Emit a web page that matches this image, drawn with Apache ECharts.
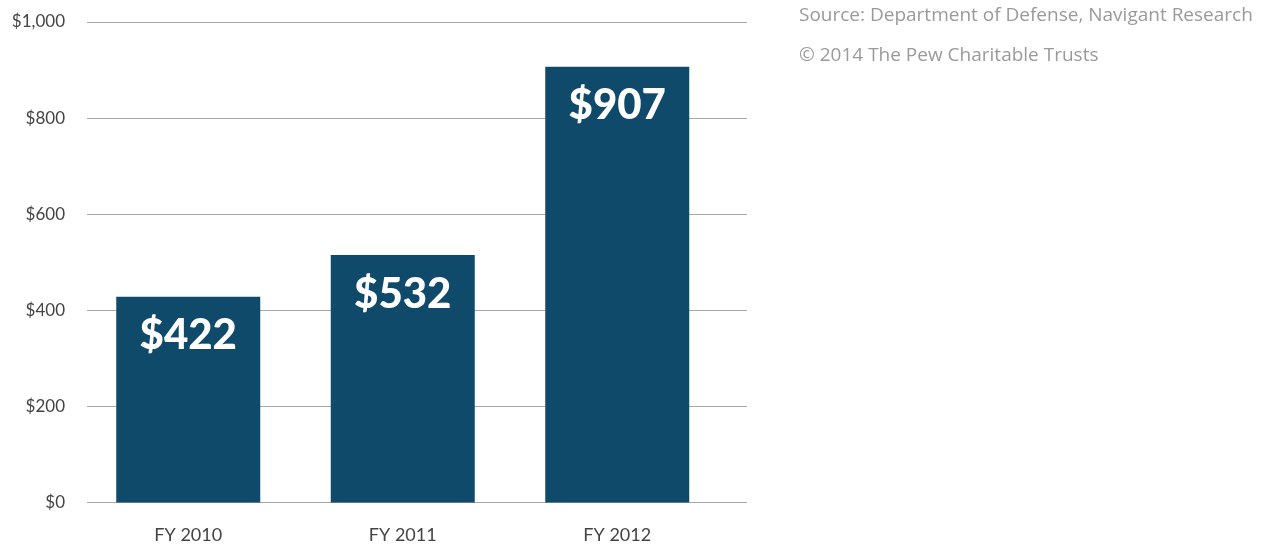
<!DOCTYPE html>
<html>
<head>
<meta charset="utf-8">
<script src="https://cdn.jsdelivr.net/npm/echarts@6/dist/echarts.min.js"></script>
<style>
html,body{margin:0;padding:0;background:#fff;}
#chart{width:1264px;height:546px;}
</style>
</head>
<body>
<div id="chart"></div>
<script>
const categories = ['FY 2010', 'FY 2011', 'FY 2012'];
const barValues = [428, 515, 907];
const barLabels = ['$422', '$532', '$907'];
const yTicks = [0, 200, 400, 600, 800, 1000];
const sourceLines = ['Source: Department of Defense, Navigant Research', '\u00A9 2014 The Pew Charitable Trusts'];

const chart = echarts.init(document.getElementById('chart'), null, {renderer: 'canvas'});
const fontFam = 'Lato, "Open Sans", sans-serif';
const option = {
  animation: false,
  backgroundColor: '#ffffff',
  grid: [
    {left: 87, width: 660, top: 22, bottom: 43.5, containLabel: false},
    {left: 81, width: 643.5, top: 22, bottom: 43.5, containLabel: false}
  ],
  graphic: sourceLines.map((t, i) => ({
    type: 'text', left: 799, top: 6 + i * 40,
    style: {text: t, fill: '#9a9a9a', font: '19px "Open Sans", sans-serif'}
  })),
  xAxis: [
    {gridIndex: 0, type: 'category', data: categories, show: false},
    {gridIndex: 1, type: 'category', data: categories,
     axisLine: {show: false}, axisTick: {show: false},
     axisLabel: {color: '#444', fontSize: 18, fontFamily: fontFam, margin: 24}}
  ],
  yAxis: [
    {gridIndex: 0, type: 'value', min: yTicks[0], max: yTicks[yTicks.length - 1], interval: 200,
     axisLine: {show: false}, axisTick: {show: false},
     splitLine: {lineStyle: {color: '#a8a8a8', width: 1}},
     axisLabel: {color: '#444', fontSize: 17, fontFamily: fontFam, margin: 22,
       formatter: v => '$' + v.toLocaleString('en-US')}},
    {gridIndex: 1, type: 'value', min: yTicks[0], max: yTicks[yTicks.length - 1], interval: 200,
     show: false, splitLine: {show: false}}
  ],
  series: [{
    type: 'bar', xAxisIndex: 1, yAxisIndex: 1,
    data: barValues, barWidth: 144,
    itemStyle: {color: '#0f4a6b'},
    label: {
      show: true, position: 'insideTop', distance: 18,
      formatter: p => barLabels[p.dataIndex],
      color: '#ffffff', fontSize: 42, fontWeight: 900, fontFamily: fontFam
    }
  }]
};
chart.setOption(option);
</script>
</body>
</html>
